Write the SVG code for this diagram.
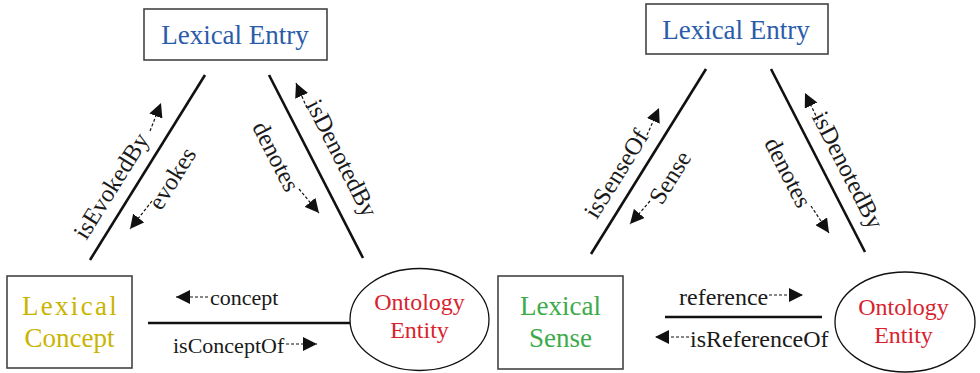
<svg xmlns="http://www.w3.org/2000/svg" width="980" height="373" viewBox="0 0 980 373">
<defs>
<marker id="ah" markerUnits="userSpaceOnUse" markerWidth="15" markerHeight="14" refX="14" refY="7" orient="auto">
<path d="M0,0 L14,7 L0,14 z" fill="#111"/>
</marker>
<style>
text{font-family:"Liberation Serif","Times New Roman",serif;}
.box{fill:#fff;stroke:#444;stroke-width:1.6;}
.ell{fill:#fff;stroke:#111;stroke-width:1.3;}
.edge{stroke:#111;stroke-width:2.6;fill:none;}
.dash{stroke:#111;stroke-width:1.2;stroke-dasharray:3,2;fill:none;marker-end:url(#ah);}
.lbl{font-size:24.5px;fill:#1a1a1a;text-anchor:middle;}
.hl{font-size:22px;fill:#1a1a1a;}
.hr{font-size:24px;fill:#1a1a1a;}
.n{font-size:27px;text-anchor:middle;}
.blue{fill:#2a5caa;}
.olive{fill:#c9b400;}
.green{fill:#3dab4a;}
.red{fill:#d8232f;}
</style>
</defs>

<g id="connectors">
<line class="edge" x1="205" y1="75" x2="90" y2="260"/>
<line class="edge" x1="269" y1="75" x2="363" y2="258"/>
<line class="edge" x1="148" y1="323" x2="350" y2="323"/>
<line class="edge" x1="706" y1="69" x2="591" y2="254"/>
<line class="edge" x1="771" y1="69" x2="865" y2="252"/>
<line class="edge" x1="665" y1="317" x2="822" y2="317"/>

<path class="dash" d="M150,131 L161,103"/>
<path class="dash" d="M152,201 L130,229"/>
<path class="dash" d="M307,108 L296,83"/>
<path class="dash" d="M299,189 L319,213"/>
<path class="dash" d="M208,297 L176,297"/>
<path class="dash" d="M286,344 L317,344"/>
<path class="dash" d="M647,135 L659,108"/>
<path class="dash" d="M650,201 L630,224"/>
<path class="dash" d="M818,120 L805,93"/>
<path class="dash" d="M811,206 L829,233"/>
<path class="dash" d="M769,295 L803,295"/>
<path class="dash" d="M689,337 L655,337"/>

<text class="lbl" transform="translate(113,187) rotate(-58)" y="6">isEvokedBy</text>
<text class="lbl" transform="translate(173,179) rotate(-58)" y="7">evokes</text>
<text class="lbl" transform="translate(340,159) rotate(63)" y="6">isDenotedBy</text>
<text class="lbl" transform="translate(275,157) rotate(63)" y="7">denotes</text>
<text class="hl" x="210" y="305">concept</text>
<text class="hl" x="173" y="353">isConceptOf</text>

<text class="lbl" transform="translate(618,175) rotate(-58)" y="6">isSenseOf</text>
<text class="lbl" transform="translate(671,178) rotate(-58)" y="7">Sense</text>
<text class="lbl" transform="translate(846,171) rotate(63)" y="6">isDenotedBy</text>
<text class="lbl" transform="translate(787,173) rotate(63)" y="7">denotes</text>
<text class="hr" x="679" y="305">reference</text>
<text class="hr" x="690" y="347">isReferenceOf</text>
</g>

<g id="lexicalEntry1">
<rect class="box" x="144" y="9" width="183" height="51"/>
<text class="n blue" x="235" y="44">Lexical Entry</text>
</g>
<g id="lexicalConcept">
<rect class="box" x="7" y="276" width="125" height="92"/>
<text class="n olive" x="70.5" y="315" letter-spacing="2.3">Lexical</text>
<text class="n olive" x="69.5" y="347">Concept</text>
</g>
<g id="ontologyEntity1">
<ellipse class="ell" cx="419.5" cy="319.5" rx="69.5" ry="51"/>
<text class="n red" style="font-size:24px" x="419.5" y="310">Ontology</text>
<text class="n red" style="font-size:24px" x="419.5" y="338">Entity</text>
</g>

<g id="lexicalEntry2">
<rect class="box" x="646" y="4" width="182" height="50"/>
<text class="n blue" x="736" y="39">Lexical Entry</text>
</g>
<g id="lexicalSense">
<rect class="box" x="498" y="276" width="125" height="93"/>
<text class="n green" x="560.5" y="315">Lexical</text>
<text class="n green" x="560.5" y="347">Sense</text>
</g>
<g id="ontologyEntity2">
<ellipse class="ell" cx="905" cy="322" rx="70" ry="50"/>
<text class="n red" style="font-size:24px" x="903.5" y="315">Ontology</text>
<text class="n red" style="font-size:24px" x="903.5" y="343">Entity</text>
</g>
</svg>
